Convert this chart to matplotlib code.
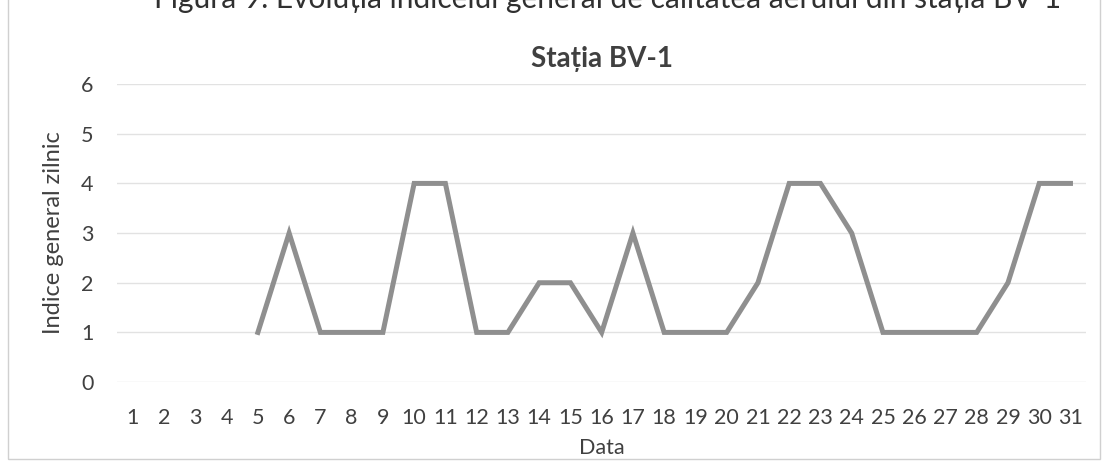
import numpy as np
import matplotlib.pyplot as plt
from matplotlib.patches import Rectangle

zile = list(range(1, 32))
indice = [np.nan, np.nan, np.nan, np.nan, 1, 3, 1, 1, 1, 4, 4, 1, 1, 2, 2, 1,
          3, 1, 1, 1, 2, 4, 4, 3, 1, 1, 1, 1, 2, 4, 4]

plt.rcParams['font.family'] = ['Lato', 'DejaVu Sans']

fig = plt.figure(figsize=(11.06, 4.62), dpi=100)
ax = fig.add_axes([0.106, 0.173, 0.876, 0.645])

ax.plot(zile, indice, color="#8f8f8f", linewidth=3.6, solid_joinstyle="miter")

ax.set_xlim(0.5, 31.5)
ax.set_ylim(0, 6)
ax.set_xticks(zile)
ax.set_xticklabels([str(z) for z in zile], size=15.5, color="#404040")
ax.set_yticks(range(0, 7))
ax.set_yticklabels([str(v) for v in range(0, 7)], size=15.5, color="#404040")
ax.tick_params(axis="x", length=0, pad=19)
ax.tick_params(axis="y", length=0, pad=17)
ax.grid(axis="y", color="#e2e2e2", linewidth=1)
ax.set_axisbelow(True)
for s in ax.spines.values():
    s.set_visible(False)

ax.set_xlabel("Data", size=15.5, color="#404040", labelpad=7)
ax.set_ylabel("Indice general zilnic", size=17, color="#404040", labelpad=12)
ax.set_title("Stația BV-1", size=20, fontweight="bold", color="#404040", pad=12)

# legenda figurii, taiata sus ca in scanare
fig.text(0.549, 0.983, "Figura 9. Evoluția indicelui general de calitatea aerului din stația BV-1",
         ha="center", va="baseline", size=21.5, color="#303030")

fig.patches.append(Rectangle((0.007, 0.006), 0.988, 1.2, transform=fig.transFigure,
                             fill=False, edgecolor="#d0d0d0", linewidth=1))

fig.savefig("out.png", dpi=100)
plt.close(fig)
